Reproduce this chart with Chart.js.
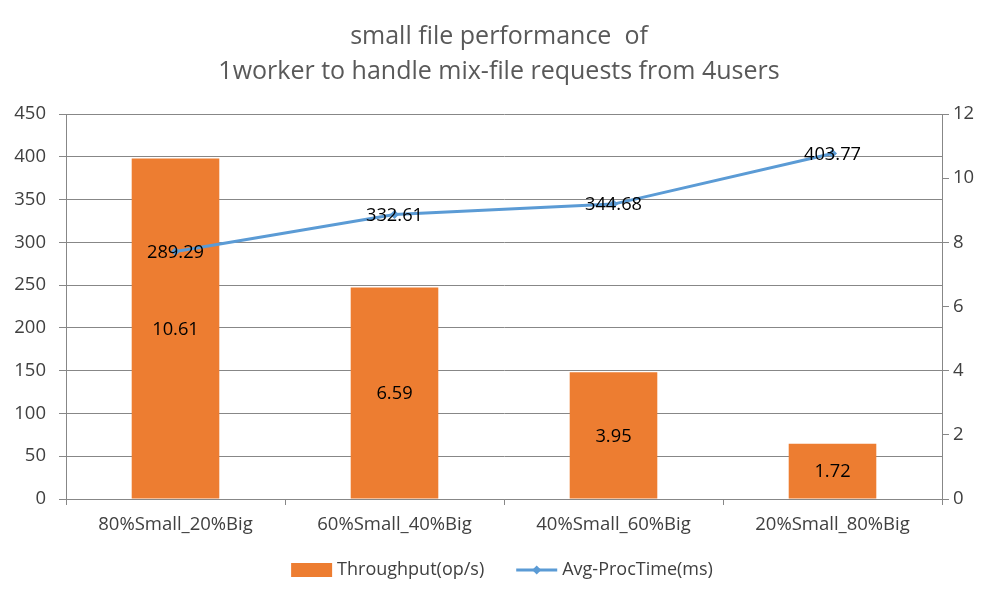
<!DOCTYPE html>
<html>
<head>
<meta charset="utf-8">
<script src="https://cdn.jsdelivr.net/npm/chart.js@4/dist/chart.umd.min.js"></script>
<style>
html,body{margin:0;padding:0;background:#fff;}
#wrap{width:998px;height:602px;position:relative;}
</style>
</head>
<body>
<div id="wrap"><canvas id="c" width="998" height="602"></canvas></div>
<script>
const titleLines = ['small file performance  of', '1worker to handle mix-file requests from 4users'];
const categories = ['80%Small_20%Big', '60%Small_40%Big', '40%Small_60%Big', '20%Small_80%Big'];
const throughput = [10.61, 6.59, 3.95, 1.72];
const procTime = [289.29, 332.61, 344.68, 403.77];
const leftTicks = [0, 50, 100, 150, 200, 250, 300, 350, 400, 450];
const rightTicks = [0, 2, 4, 6, 8, 10, 12];

const FONT = '"Open Sans", Lato, sans-serif';
const GRID = '#878787';
const TXT = '#404040';

const titlePlugin = {
  id: 'customTitle',
  afterDraw(chart) {
    const ctx = chart.ctx;
    ctx.save();
    ctx.fillStyle = '#595959';
    ctx.font = '25px ' + FONT;
    ctx.textAlign = 'center';
    ctx.textBaseline = 'middle';
    ctx.fillText(titleLines[0], chart.width / 2, 37);
    ctx.fillText(titleLines[1], chart.width / 2, 72);
    ctx.restore();
  }
};

const labelPlugin = {
  id: 'valueLabels',
  afterDatasetsDraw(chart) {
    const ctx = chart.ctx;
    ctx.save();
    ctx.font = '18.3px ' + FONT;
    ctx.fillStyle = '#000';
    ctx.textAlign = 'center';
    ctx.textBaseline = 'middle';
    chart.data.datasets.forEach((ds, i) => {
      const meta = chart.getDatasetMeta(i);
      meta.data.forEach((el, j) => {
        const v = ds.data[j];
        let x = el.x, y = el.y;
        if (ds.type === 'bar') {
          y = (el.y + el.base) / 2;
        }
        ctx.fillText(v.toFixed(2), x, y + 1);
      });
    });
    ctx.restore();
  }
};

const legendPlugin = {
  id: 'customLegend',
  afterDraw(chart) {
    const ctx = chart.ctx;
    ctx.save();
    ctx.font = '18px ' + FONT;
    ctx.textBaseline = 'middle';
    ctx.textAlign = 'left';
    const bar = chart.data.datasets.find(d => d.type === 'bar');
    const line = chart.data.datasets.find(d => d.type === 'line');
    const y = 570;
    const sym = 41, gap = 5, between = 32;
    const w0 = ctx.measureText(bar.label).width;
    const w1 = ctx.measureText(line.label).width;
    const total = sym + gap + w0 + between + sym + gap + w1;
    let x = chart.width / 2 - total / 2 + 3;
    ctx.fillStyle = bar.backgroundColor;
    ctx.fillRect(x, y - 7, sym, 14);
    ctx.fillStyle = TXT;
    ctx.fillText(bar.label, x + sym + gap, y);
    x += sym + gap + w0 + between;
    ctx.strokeStyle = line.borderColor;
    ctx.lineWidth = 3;
    ctx.beginPath();
    ctx.moveTo(x, y);
    ctx.lineTo(x + sym, y);
    ctx.stroke();
    ctx.fillStyle = line.borderColor;
    ctx.beginPath();
    const cx = x + sym / 2, r = 4.5;
    ctx.moveTo(cx, y - r); ctx.lineTo(cx + r, y); ctx.lineTo(cx, y + r); ctx.lineTo(cx - r, y);
    ctx.closePath();
    ctx.fill();
    ctx.fillStyle = TXT;
    ctx.fillText(line.label, x + sym + gap, y);
    ctx.restore();
  }
};

new Chart(document.getElementById('c'), {
  data: {
    labels: categories,
    datasets: [
      {
        type: 'line',
        label: 'Avg-ProcTime(ms)',
        data: procTime,
        yAxisID: 'y',
        borderColor: '#5B9BD5',
        backgroundColor: '#5B9BD5',
        borderWidth: 3,
        pointStyle: 'rectRot',
        pointRadius: 4.5,
        pointBorderWidth: 0,
        tension: 0,
        order: 0
      },
      {
        type: 'bar',
        label: 'Throughput(op/s)',
        data: throughput,
        yAxisID: 'y1',
        backgroundColor: '#ED7D31',
        barPercentage: 0.4,
        categoryPercentage: 1.0,
        order: 1
      }
    ]
  },
  options: {
    responsive: false,
    animation: false,
    devicePixelRatio: 1,
    layout: { padding: { top: 114, left: 0, right: 0, bottom: 0 } },
    plugins: {
      legend: { display: false },
      title: { display: false },
      tooltip: { enabled: false }
    },
    scales: {
      x: {
        offset: true,
        grid: { display: true, drawOnChartArea: false, drawTicks: true, tickLength: 6, color: GRID, offset: true },
        border: { display: true, color: GRID },
        ticks: { color: TXT, font: { family: FONT, size: 18.5 }, padding: 9, maxRotation: 0 },
        afterFit(s) { s.height = 103; }
      },
      y: {
        position: 'left',
        min: 0, max: 450,
        afterBuildTicks(s) { s.ticks = leftTicks.map(v => ({ value: v })); },
        grid: { color: GRID, tickLength: 7 },
        border: { display: true, color: GRID },
        ticks: { color: TXT, font: { family: FONT, size: 18.5 }, padding: 13 },
        afterFit(s) { s.width = 66; }
      },
      y1: {
        position: 'right',
        min: 0, max: 12,
        afterBuildTicks(s) { s.ticks = rightTicks.map(v => ({ value: v })); },
        grid: { drawOnChartArea: false, color: GRID, tickLength: 7 },
        border: { display: true, color: GRID },
        ticks: { color: TXT, font: { family: FONT, size: 18.5 }, padding: 4 },
        afterFit(s) { s.width = 56; }
      }
    }
  },
  plugins: [titlePlugin, labelPlugin, legendPlugin]
});
</script>
</body>
</html>
